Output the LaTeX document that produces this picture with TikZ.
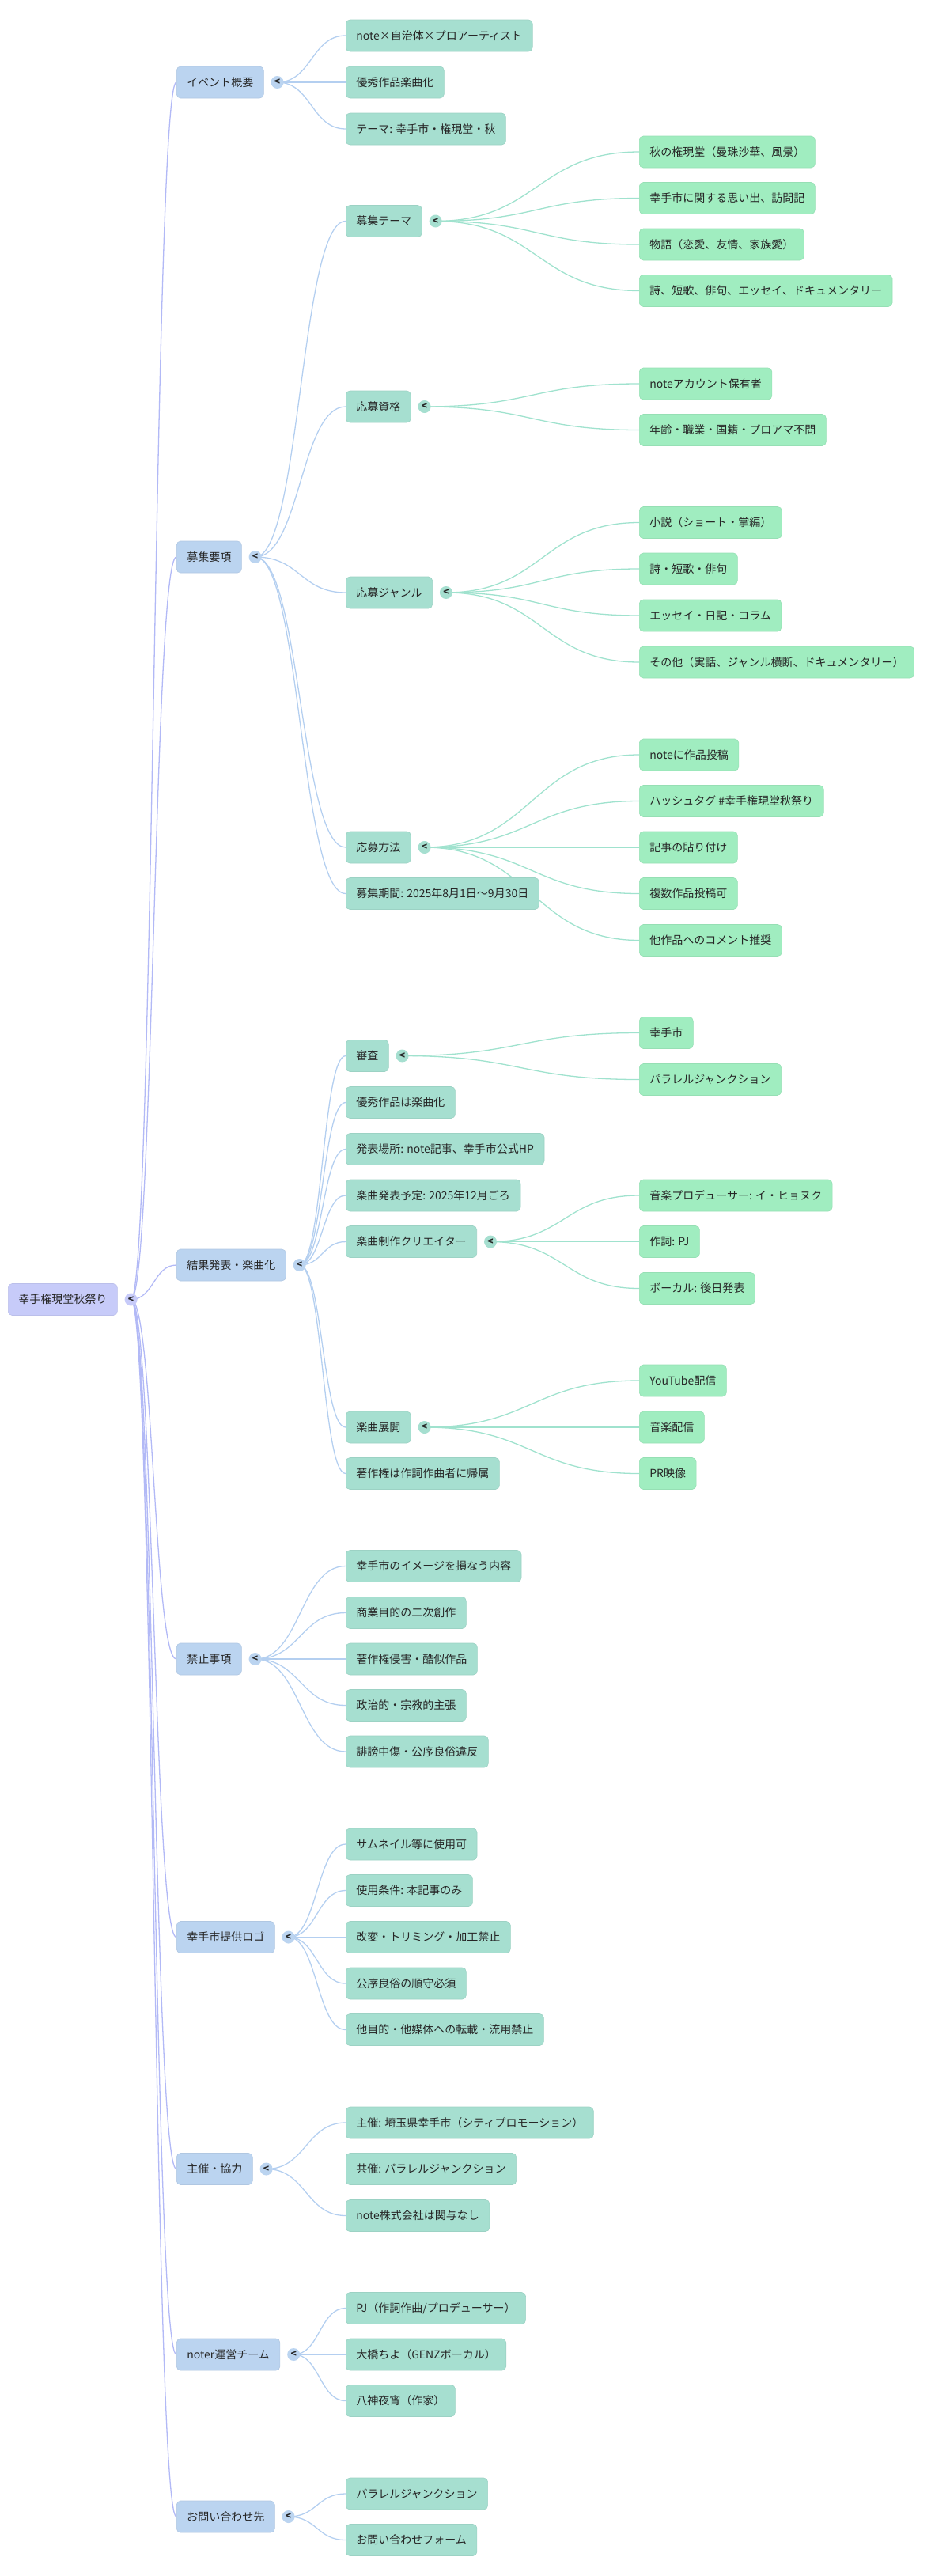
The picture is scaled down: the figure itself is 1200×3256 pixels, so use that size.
\documentclass[tikz,border=0pt]{standalone}
\usepackage{fontspec}
\setmainfont{Noto Sans CJK JP}
\usepackage{xcolor}
\usetikzlibrary{calc}

\definecolor{rootfill}{RGB}{199,203,249}
\definecolor{onefill}{RGB}{187,212,240}
\definecolor{twofill}{RGB}{166,223,208}
\definecolor{threefill}{RGB}{160,237,192}
\definecolor{rootline}{RGB}{178,185,246}
\definecolor{oneline}{RGB}{180,207,240}
\definecolor{twoline}{RGB}{160,226,206}

\pgfdeclarelayer{links}
\pgfsetlayers{links,main}

\tikzset{
  box/.style={rounded corners=5pt, minimum height=40pt, inner xsep=13pt, inner ysep=0pt,
    anchor=west, text=black!85, line width=.6pt, font=\fontsize{14}{16}\selectfont},
  lvroot/.style={box, fill=rootfill, draw=rootfill!94!black},
  lvone/.style={box, fill=onefill, draw=onefill!94!black},
  lvtwo/.style={box, fill=twofill, draw=twofill!94!black},
  lvthree/.style={box, fill=threefill, draw=threefill!94!black},
  foldmark/.style={circle, inner sep=0pt, minimum size=16pt, text=black!85,
    font=\fontsize{12}{12}\selectfont\bfseries},
}

\newcommand\fold[2]{\node[foldmark, fill=#2] (#1k) at ($(#1.east)+(17,0)$) {<};}
\newcommand\link[3]{\begin{pgfonlayer}{links}
  \draw[#3, line width=1.3pt] let \p1=(#1.center), \p2=(#2.west) in
    (\p1) .. controls ({(\x1+\x2)/2},\y1) and ({(\x1+\x2)/2},\y2) .. (\p2);
  \end{pgfonlayer}}

\begin{document}
\begin{tikzpicture}[x=1pt,y=-1pt]
  \def\xr{10};
  \def\xa{223};
  \def\xb{437};
  \def\xc{808};

  \useasboundingbox (0,0) rectangle (1200,3256);

  \node[lvroot] (r) at (\xr,1642.5) {幸手権現堂秋祭り};
  \fold{r}{rootfill}

  \foreach \nd/\yy/\tx in {a1/104/イベント概要, a2/704/募集要項, a3/1599/結果発表・楽曲化,
      a4/2097/禁止事項, a5/2448.5/幸手市提供ロゴ, a6/2741.5/主催・協力,
      a7/2976/noter運営チーム, a8/3181/お問い合わせ先} {
    \node[lvone] (\nd) at (\xa,\yy) {\tx};
    \fold{\nd}{onefill}
    \link{rk}{\nd}{rootline}
  }

  \foreach \nd/\yy/\tx in {b11/45/{note×自治体×プロアーティスト}, b12/104/優秀作品楽曲化,
      b13/163/{テーマ: 幸手市・権現堂・秋}} {
    \node[lvtwo] (\nd) at (\xb,\yy) {\tx};
    \link{a1k}{\nd}{oneline}
  }
  \foreach \nd/\yy/\tx in {b21/279.5/募集テーマ, b22/514/応募資格, b23/749/応募ジャンル,
      b24/1071/応募方法, b25/1129.5/{募集期間: 2025年8月1日〜9月30日}} {
    \node[lvtwo] (\nd) at (\xb,\yy) {\tx};
    \link{a2k}{\nd}{oneline}
  }
  \foreach \nd/\yy/\tx in {b31/1334.5/審査, b32/1393.5/優秀作品は楽曲化,
      b33/1452.5/{発表場所: note記事、幸手市公式HP}, b34/1511/{楽曲発表予定: 2025年12月ごろ},
      b35/1569.5/楽曲制作クリエイター, b36/1804/楽曲展開, b37/1862.5/著作権は作詞作曲者に帰属} {
    \node[lvtwo] (\nd) at (\xb,\yy) {\tx};
    \link{a3k}{\nd}{oneline}
  }
  \foreach \nd/\yy/\tx in {b41/1979.5/幸手市のイメージを損なう内容, b42/2038.5/商業目的の二次創作,
      b43/2097/著作権侵害・酷似作品, b44/2155.5/政治的・宗教的主張, b45/2214/誹謗中傷・公序良俗違反} {
    \node[lvtwo] (\nd) at (\xb,\yy) {\tx};
    \link{a4k}{\nd}{oneline}
  }
  \foreach \nd/\yy/\tx in {b51/2331/サムネイル等に使用可, b52/2389.5/{使用条件: 本記事のみ},
      b53/2448.5/改変・トリミング・加工禁止, b54/2507/公序良俗の順守必須,
      b55/2565.5/他目的・他媒体への転載・流用禁止} {
    \node[lvtwo] (\nd) at (\xb,\yy) {\tx};
    \link{a5k}{\nd}{oneline}
  }
  \foreach \nd/\yy/\tx in {b61/2683/{主催: 埼玉県幸手市（シティプロモーション）},
      b62/2741.5/{共催: パラレルジャンクション}, b63/2800.5/note株式会社は関与なし} {
    \node[lvtwo] (\nd) at (\xb,\yy) {\tx};
    \link{a6k}{\nd}{oneline}
  }
  \foreach \nd/\yy/\tx in {b71/2917.5/{PJ（作詞作曲/プロデューサー）}, b72/2976/{大橋ちよ（GENZボーカル）},
      b73/3034.5/八神夜宵（作家）} {
    \node[lvtwo] (\nd) at (\xb,\yy) {\tx};
    \link{a7k}{\nd}{oneline}
  }
  \foreach \nd/\yy/\tx in {b81/3152/パラレルジャンクション, b82/3210.5/お問い合わせフォーム} {
    \node[lvtwo] (\nd) at (\xb,\yy) {\tx};
    \link{a8k}{\nd}{oneline}
  }

  \foreach \nd in {b21, b22, b23, b24, b31, b35, b36} {
    \fold{\nd}{twofill}
  }

  \foreach \yy/\tx [count=\i] in {192/秋の権現堂（曼珠沙華、風景）, 250.5/幸手市に関する思い出、訪問記,
      309/物語（恋愛、友情、家族愛）, 367.5/詩、短歌、俳句、エッセイ、ドキュメンタリー} {
    \node[lvthree] (c1\i) at (\xc,\yy) {\tx};
    \link{b21k}{c1\i}{twoline}
  }
  \foreach \yy/\tx [count=\i] in {485/noteアカウント保有者, 543.5/年齢・職業・国籍・プロアマ不問} {
    \node[lvthree] (c2\i) at (\xc,\yy) {\tx};
    \link{b22k}{c2\i}{twoline}
  }
  \foreach \yy/\tx [count=\i] in {660.5/小説（ショート・掌編）, 719/詩・短歌・俳句,
      778/エッセイ・日記・コラム, 837/その他（実話、ジャンル横断、ドキュメンタリー）} {
    \node[lvthree] (c3\i) at (\xc,\yy) {\tx};
    \link{b23k}{c3\i}{twoline}
  }
  \foreach \yy/\tx [count=\i] in {954/noteに作品投稿, 1012.5/ハッシュタグ \#幸手権現堂秋祭り,
      1071/記事の貼り付け, 1129.5/複数作品投稿可, 1188.5/他作品へのコメント推奨} {
    \node[lvthree] (c4\i) at (\xc,\yy) {\tx};
    \link{b24k}{c4\i}{twoline}
  }
  \foreach \yy/\tx [count=\i] in {1305.5/幸手市, 1364.5/パラレルジャンクション} {
    \node[lvthree] (c5\i) at (\xc,\yy) {\tx};
    \link{b31k}{c5\i}{twoline}
  }
  \foreach \yy/\tx [count=\i] in {1511/{音楽プロデューサー: イ・ヒョヌク}, 1569.5/{作詞: PJ},
      1628.5/{ボーカル: 後日発表}} {
    \node[lvthree] (c6\i) at (\xc,\yy) {\tx};
    \link{b35k}{c6\i}{twoline}
  }
  \foreach \yy/\tx [count=\i] in {1745/YouTube配信, 1804/音楽配信, 1862.5/PR映像} {
    \node[lvthree] (c7\i) at (\xc,\yy) {\tx};
    \link{b36k}{c7\i}{twoline}
  }
\end{tikzpicture}
\end{document}
